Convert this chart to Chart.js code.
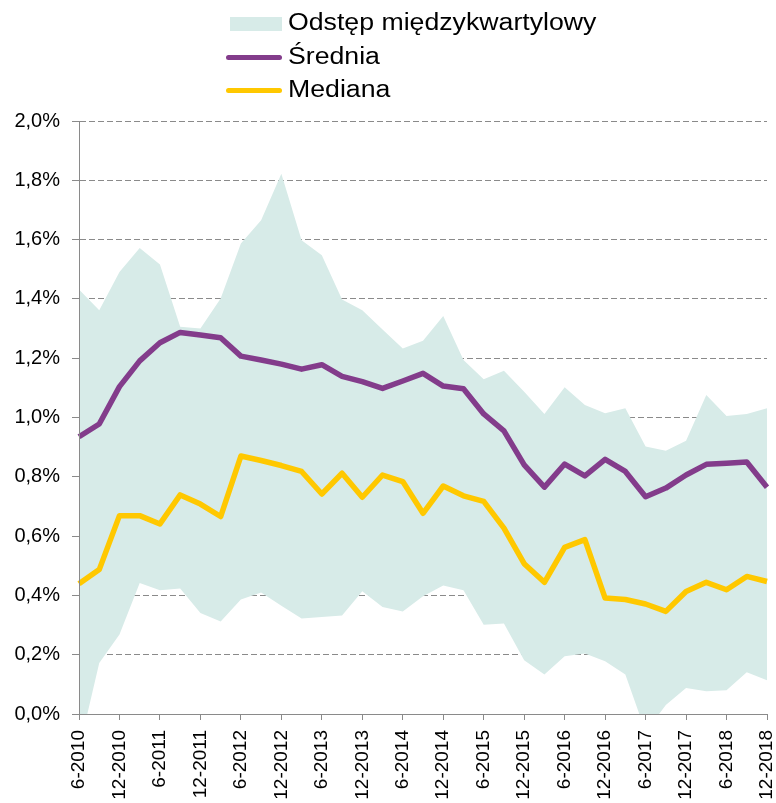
<!DOCTYPE html>
<html>
<head>
<meta charset="utf-8">
<script src="https://cdn.jsdelivr.net/npm/chart.js@4/dist/chart.umd.min.js"></script>
<style>
  html, body { margin: 0; padding: 0; background: #fff; }
  #wrap { position: relative; width: 776px; height: 803px; }
  #legend { position: absolute; left: 226px; top: 6px; font-family: "Liberation Sans", Arial, sans-serif; font-size: 23px; color: #000; }
  .item { position: relative; height: 33.5px; line-height: 33.5px; white-space: nowrap; }
  .sw { position: absolute; left: 0; }
  .txt { position: absolute; left: 62px; top: 0; transform: scaleX(1.16); transform-origin: left center; }
</style>
</head>
<body>
<div id="wrap">
  <canvas id="c" width="776" height="803"></canvas>
  <div id="legend"></div>
</div>
<script>
const categories = [
  '6-2010','9-2010','12-2010',
  '3-2011','6-2011','9-2011','12-2011',
  '3-2012','6-2012','9-2012','12-2012',
  '3-2013','6-2013','9-2013','12-2013',
  '3-2014','6-2014','9-2014','12-2014',
  '3-2015','6-2015','9-2015','12-2015',
  '3-2016','6-2016','9-2016','12-2016',
  '3-2017','6-2017','9-2017','12-2017',
  '3-2018','6-2018','9-2018','12-2018'
];
const seriesNames = ['Odstęp międzykwartylowy', 'Średnia', 'Mediana'];
// Interquartile range: lower (Q1) and upper (Q3) bounds, in %
const q1 = [-0.12,0.172,0.268,0.442,0.417,0.423,0.341,0.312,0.386,0.410,0.365,0.322,0.327,0.332,0.414,0.361,
            0.346,0.397,0.433,0.417,0.301,0.305,0.181,0.133,0.195,0.204,0.178,0.133,-0.06,0.03,0.088,0.077,0.080,0.141,0.114];
const q3 = [1.432,1.362,1.491,1.572,1.516,1.306,1.300,1.401,1.587,1.665,1.822,1.598,1.547,1.398,1.362,1.297,
            1.233,1.259,1.342,1.194,1.129,1.158,1.087,1.012,1.102,1.042,1.014,1.031,0.902,0.888,0.922,1.076,1.005,1.012,1.031];
const mean = [0.935,0.978,1.104,1.191,1.252,1.287,1.278,1.269,1.207,1.194,1.180,1.163,1.178,1.139,1.121,1.098,
              1.123,1.149,1.106,1.097,1.012,0.955,0.840,0.765,0.843,0.803,0.859,0.818,0.733,0.762,0.806,0.842,0.846,0.850,0.765];
const median = [0.439,0.487,0.669,0.669,0.641,0.739,0.708,0.666,0.870,0.855,0.838,0.818,0.742,0.812,0.731,0.806,
                0.784,0.677,0.769,0.736,0.717,0.627,0.507,0.444,0.562,0.588,0.391,0.386,0.371,0.346,0.413,0.444,0.419,0.464,0.447];
const yTicks = [0,0.2,0.4,0.6,0.8,1.0,1.2,1.4,1.6,1.8,2.0];

const BAND = '#D7EBE8', PURPLE = '#833C8B', YELLOW = '#FFC800', GRID = '#8a8a8a';
const FONT = "'Liberation Sans', Arial, sans-serif";

const chart = new Chart(document.getElementById('c'), {
  type: 'line',
  data: {
    labels: categories,
    datasets: [
      { label: 'q1', data: q1, order: 3, borderWidth: 0, pointRadius: 0, fill: false, backgroundColor: 'transparent', borderColor: 'transparent' },
      { label: seriesNames[0], data: q3, order: 2, borderWidth: 0, pointRadius: 0, fill: '-1', backgroundColor: BAND, borderColor: 'transparent' },
      { label: seriesNames[1], data: mean, order: 1, borderColor: PURPLE, borderWidth: 5.5, pointRadius: 0, fill: false, tension: 0, borderJoinStyle: 'round' },
      { label: seriesNames[2], data: median, order: 0, borderColor: YELLOW, borderWidth: 5.5, pointRadius: 0, fill: false, tension: 0, borderJoinStyle: 'round' }
    ]
  },
  options: {
    responsive: false,
    animation: false,
    events: [],
    layout: { padding: { top: 121, right: 9, bottom: 0, left: 0 } },
    plugins: { legend: { display: false }, tooltip: { enabled: false } },
    scales: {
      x: {
        offset: false,
        grid: {
          drawOnChartArea: false, drawTicks: true, tickLength: 6,
          tickColor: (ctx) => (ctx.index % 2 === 0 ? GRID : 'transparent'),
          color: 'transparent'
        },
        border: { display: true, color: GRID, width: 1, z: 1 },
        ticks: {
          autoSkip: false, maxRotation: 90, minRotation: 90, padding: 10,
          color: '#000', font: { family: FONT, size: 19 },
          callback: function(v, i) { return i % 2 === 0 ? categories[i] : ''; }
        },
        afterFit: (s) => { s.height = 89; s.paddingLeft = 0; s.paddingRight = 0; }
      },
      y: {
        min: 0, max: 2.0,
        afterBuildTicks: (s) => { s.ticks = yTicks.map(v => ({ value: v })); },
        grid: { color: GRID, lineWidth: 1, drawTicks: true, tickLength: 7, tickColor: GRID },
        border: { display: true, color: GRID, width: 1, dash: [6, 3], z: 1 },
        ticks: {
          padding: 12, color: '#000', font: { family: FONT, size: 20 },
          callback: (v) => v.toFixed(1).replace('.', ',') + '%'
        },
        afterFit: (s) => { s.width = 79; s.paddingTop = 0; s.paddingBottom = 0; }
      }
    }
  }
});

// HTML legend built from the chart's datasets
const legend = document.getElementById('legend');
chart.data.datasets.slice(1).forEach((ds, k) => {
  const item = document.createElement('div');
  item.className = 'item';
  const sw = document.createElement('div');
  sw.className = 'sw';
  if (k === 0) {
    Object.assign(sw.style, { width: '52px', height: '14px', top: '11px', left: '4px', background: ds.backgroundColor });
  } else {
    Object.assign(sw.style, { width: '56px', height: '5px', top: '15px', left: '0px', background: ds.borderColor, borderRadius: '3px' });
  }
  const t = document.createElement('span');
  t.className = 'txt';
  t.textContent = ds.label;
  item.appendChild(sw);
  item.appendChild(t);
  legend.appendChild(item);
});
</script>
</body>
</html>
